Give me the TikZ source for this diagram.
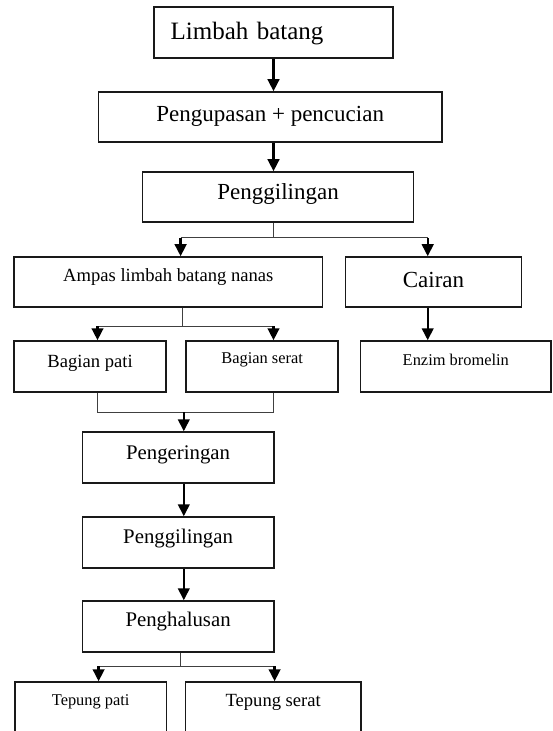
\documentclass[tikz,border=0pt]{standalone}
\usepackage{fontspec}
\setmainfont{Liberation Serif}
\usetikzlibrary{arrows.meta}
\newcommand{\lift}[2]{\raisebox{#1}[\height][\depth]{#2}}

\begin{document}
\begin{tikzpicture}
[x=0.5pt, y=-0.5pt,
 stepbox/.style={shape=rectangle,draw=black!90,line width=0.75pt,inner sep=0pt,minimum height=25.5pt},%
 bigtext/.style={font=\fontsize{11.5}{13}\selectfont},%
 midtext/.style={font=\fontsize{10.4}{12}\selectfont},%
 smalltext/.style={font=\fontsize{9.3}{11}\selectfont},%
 tinytext/.style={font=\fontsize{8.2}{10}\selectfont},%
 flowarrow/.style={-{Triangle[width=5.8pt,length=6pt]},line width=1.2pt},%
 branchline/.style={-,line width=0.5pt,draw=black!75}]
\path[use as bounding box] (0,0) rectangle (552,731);
\clip (0,0) rectangle (552,731);
%% nodes or boxes
\node (limbah) at (273.5,32.5) [stepbox,inner xsep=8.45pt,text width=102.8pt,align=left,
  font=\fontsize{12.5}{14}\selectfont] {\lift{-0.75pt}{Limbah batang}};
\node (kupas) at (270.2,117) [stepbox,bigtext,minimum width=171.6pt,minimum height=25pt]
  {\lift{0.25pt}{Pengupasan + pencucian}};
\node (giling1) at (278.1,197) [stepbox,bigtext,minimum width=135.5pt,minimum height=25pt]
  {\lift{1.25pt}{Penggilingan}};
\node (ampas) at (168.3,282) [stepbox,smalltext,minimum width=154.2pt,minimum height=25pt]
  {\lift{2.5pt}{Ampas limbah batang nanas}};
\node (cairan) at (433.5,282) [stepbox,bigtext,minimum width=87.9pt,minimum height=25pt]
  {\lift{1pt}{Cairan}};
\node (pati) at (90.1,366.5) [stepbox,smalltext,minimum width=76pt] {\lift{1.75pt}{Bagian pati}};
\node (serat) at (262.1,366.5) [stepbox,tinytext,minimum width=75.9pt] {\lift{3.25pt}{Bagian serat}};
\node (enzim) at (455.8,366.5) [stepbox,tinytext,minimum width=95.2pt] {\lift{3.25pt}{Enzim bromelin}};
\foreach \nodename/\y/\up/\txt in {kering/457.5/1.25pt/Pengeringan,
  giling2/542.5/1.75pt/Penggilingan, halus/626.5/2.25pt/Penghalusan}
{
  \node (\nodename) at (178.1,\y) [stepbox,midtext,minimum width=95.7pt] {\lift{\up}{\txt}};
}
\node (tpati) at (90.7,708) [stepbox,tinytext,minimum width=75.8pt,minimum height=26pt]
  {\lift{3pt}{Tepung pati}};
\node (tserat) at (273.2,708) [stepbox,smalltext,minimum width=87.6pt,minimum height=26pt]
  {\lift{3pt}{Tepung serat}};
%% branch points
\coordinate (fork1) at (273.5,238);
\coordinate (fork1l) at (180.6,238);
\coordinate (fork1r) at (427.7,238);
\coordinate (fork2) at (182.4,326);
\coordinate (fork2l) at (97.5,326);
\coordinate (fork2r) at (273.5,326);
\coordinate (join) at (183.8,412);
\coordinate (joinl) at (97.5,412);
\coordinate (joinr) at (273.5,412);
\coordinate (fork3) at (180.2,666);
\coordinate (fork3l) at (98.6,666);
\coordinate (fork3r) at (274.6,666);
%% edges or lines
\draw[flowarrow] (limbah.south) -- (limbah.south |- kupas.north);
\draw[flowarrow] (kupas.south -| fork1) -- (giling1.north -| fork1);
\foreach \startnode/\endnode in {giling1/fork1, ampas/fork2, halus/fork3}
{
  \draw[branchline] (\startnode.south -| \endnode) -- (\endnode);
}
\draw[branchline] (fork1l) -- (fork1r);
\draw[branchline] (fork2l) -- (fork2r);
\draw[branchline] (fork3l) -- (fork3r);
\draw[branchline] (pati.south -| joinl) -- (joinl) -- (joinr) -- (serat.south -| joinr);
\foreach \startnode/\endnode in {fork1l/ampas, fork1r/cairan, fork2l/pati,
  fork2r/serat, fork3l/tpati, fork3r/tserat, join/kering}
{
  \draw[flowarrow] (\startnode) -- (\endnode.north -| \startnode);
}
\draw[flowarrow] (cairan.south -| fork1r) -- (enzim.north -| fork1r);
\draw[flowarrow] (kering.south -| join) -- (giling2.north -| join);
\draw[flowarrow] (giling2.south -| join) -- (halus.north -| join);
\end{tikzpicture}
\end{document}
